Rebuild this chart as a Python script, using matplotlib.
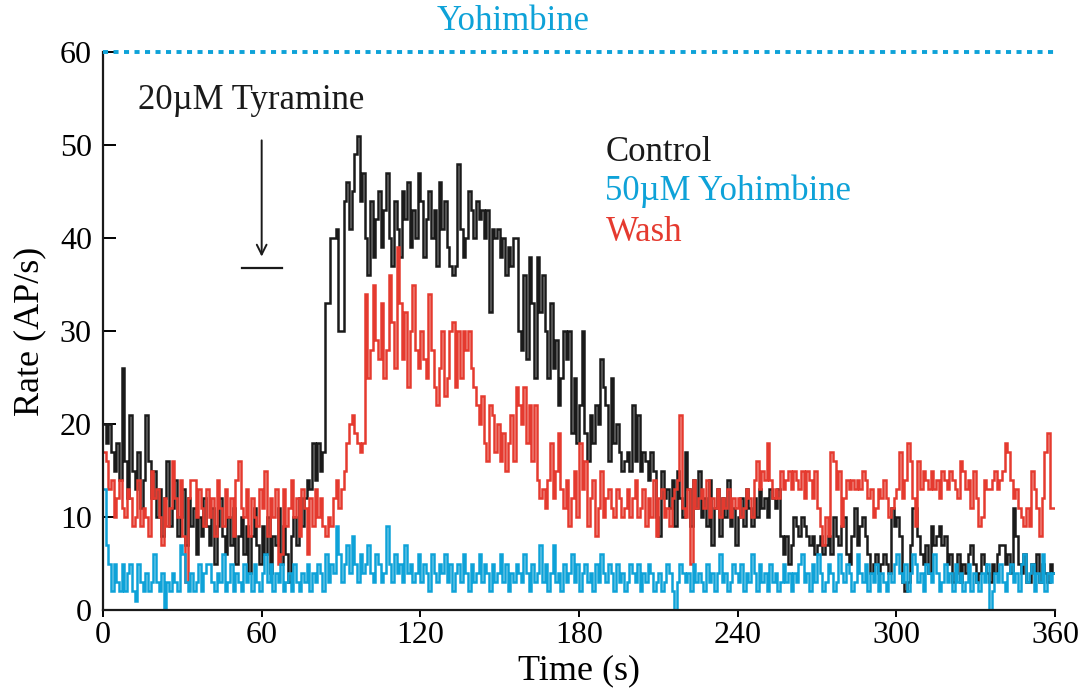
import numpy as np
import matplotlib
matplotlib.use("Agg")
import matplotlib.pyplot as plt

# ---- data (1-s bins, t = 0..359) ----
control = [
    20, 18, 20, 17, 15, 18, 14, 26, 16, 12, 21, 15, 13, 17, 11, 14, 21, 16, 12, 15,
    10, 13, 8, 12, 16, 9, 11, 14, 8, 10, 13, 7, 12, 9, 11, 6, 10, 8, 12, 9,
    7, 11, 5, 9, 12, 8, 6, 10, 7, 11, 5, 8, 10, 6, 9, 4, 8, 11, 7, 5,
    9, 6, 10, 4, 8, 7, 11, 5, 9, 6, 3, 8, 10, 7, 12, 9, 12, 14, 13, 18,
    14, 18, 15, 17, 33, 33, 40, 40, 41, 30, 30, 44, 46, 41, 45, 49, 51, 44, 47, 40,
    36, 44, 38, 42, 45, 39, 43, 47, 40, 37, 44, 41, 38, 45, 42, 46, 39, 43, 40, 47,
    44, 38, 42, 45, 40, 43, 37, 46, 41, 44, 39, 37, 36, 37, 48, 41, 38, 40, 45, 43,
    40, 44, 42, 43, 40, 43, 32, 41, 40, 41, 38, 40, 36, 39, 37, 40, 40, 30, 28, 36,
    27, 38, 33, 25, 38, 32, 36, 30, 25, 33, 26, 29, 22, 25, 30, 27, 30, 19, 25, 18,
    22, 30, 19, 16, 21, 18, 22, 20, 27, 24, 22, 16, 25, 18, 20, 17, 15, 16, 17, 15,
    22, 16, 21, 15, 17, 16, 14, 17, 15, 10, 8, 15, 12, 13, 11, 14, 9, 15, 12, 10,
    17, 13, 9, 14, 11, 15, 10, 12, 9, 14, 7, 11, 13, 8, 12, 10, 14, 9, 11, 7,
    10, 12, 9, 13, 11, 9, 12, 10, 13, 11, 12, 10, 13, 12, 11, 13, 8, 6, 8, 5,
    7, 10, 9, 8, 10, 9, 8, 7, 8, 6, 7, 8, 6, 7, 8, 6, 10, 8, 7, 9,
    10, 6, 5, 8, 11, 7, 9, 10, 8, 6, 4, 5, 6, 4, 5, 6, 5, 4, 11, 9,
    10, 8, 3, 2, 3, 7, 11, 11, 8, 6, 5, 7, 4, 9, 7, 8, 9, 7, 8, 5,
    6, 3, 4, 6, 3, 5, 4, 6, 7, 5, 3, 4, 6, 5, 4, 3, 5, 4, 6, 7,
    7, 5, 6, 4, 11, 8, 5, 4, 6, 3, 3, 5, 4, 6, 3, 5, 4, 3, 5, 4,
]

yohimbine = [
    13, 7, 5, 2, 5, 3, 2, 5, 2, 4, 5, 2, 1, 5, 3, 2, 4, 2, 3, 6,
    3, 2, 4, 0, 3, 2, 4, 3, 2, 7, 6, 3, 2, 4, 2, 3, 5, 2, 4, 5,
    5, 3, 2, 4, 3, 6, 2, 3, 5, 2, 4, 3, 2, 5, 3, 4, 2, 5, 3, 2,
    4, 6, 3, 5, 2, 4, 3, 5, 2, 3, 4, 2, 5, 3, 2, 4, 3, 5, 2, 4,
    3, 5, 4, 2, 6, 3, 5, 4, 9, 6, 3, 5, 7, 4, 8, 5, 3, 6, 4, 5,
    7, 4, 3, 6, 5, 3, 4, 9, 5, 3, 6, 4, 5, 3, 7, 4, 5, 3, 4, 6,
    3, 5, 4, 2, 6, 4, 3, 5, 4, 6, 3, 5, 2, 4, 5, 3, 6, 4, 2, 5,
    3, 4, 6, 3, 5, 4, 2, 5, 3, 4, 6, 3, 5, 2, 4, 3, 5, 4, 3, 6,
    4, 2, 5, 3, 4, 7, 3, 5, 2, 4, 7, 3, 4, 2, 5, 3, 4, 6, 3, 5,
    2, 4, 5, 3, 4, 2, 5, 3, 6, 4, 3, 5, 4, 2, 5, 3, 4, 2, 3, 5,
    4, 3, 5, 2, 4, 3, 5, 4, 2, 3, 4, 2, 3, 5, 4, 2, 0, 3, 5, 4,
    3, 4, 2, 5, 3, 4, 3, 2, 5, 3, 4, 2, 4, 6, 3, 4, 2, 3, 5, 4,
    3, 5, 2, 4, 3, 6, 4, 2, 5, 3, 4, 2, 5, 3, 4, 2, 3, 5, 3, 4,
    2, 4, 3, 5, 6, 3, 4, 2, 5, 3, 6, 4, 2, 3, 5, 4, 2, 3, 6, 4,
    3, 5, 4, 2, 3, 6, 4, 3, 5, 2, 4, 3, 5, 2, 4, 3, 2, 4, 3, 5,
    6, 4, 3, 5, 2, 4, 6, 5, 3, 4, 2, 5, 4, 3, 6, 4, 2, 3, 5, 3,
    4, 2, 5, 3, 4, 2, 3, 5, 2, 4, 3, 2, 4, 3, 5, 0, 2, 4, 3, 5,
    3, 2, 4, 5, 3, 4, 2, 5, 6, 3, 4, 5, 2, 4, 3, 6, 2, 4, 3, 4,
]

wash = [
    17, 16, 13, 14, 10, 12, 14, 11, 10, 13, 12, 9, 10, 14, 9, 11, 10, 8, 15, 12,
    13, 10, 7, 12, 9, 11, 16, 12, 10, 14, 8, 3, 12, 14, 14, 10, 13, 11, 9, 13,
    10, 12, 8, 14, 11, 9, 13, 10, 12, 8, 14, 16, 11, 10, 13, 8, 12, 10, 9, 13,
    11, 15, 8, 12, 10, 13, 5, 6, 13, 9, 11, 14, 10, 12, 8, 13, 11, 6, 12, 9,
    13, 10, 12, 9, 8, 10, 9, 12, 14, 11, 13, 15, 18, 20, 21, 19, 18, 17, 18, 34,
    25, 28, 35, 29, 27, 33, 25, 28, 36, 31, 26, 39, 33, 27, 32, 24, 30, 35, 28, 26,
    30, 27, 25, 34, 28, 24, 22, 26, 30, 23, 25, 30, 31, 24, 30, 25, 30, 28, 30, 26,
    24, 22, 20, 23, 18, 16, 22, 21, 17, 20, 16, 19, 15, 18, 21, 16, 24, 22, 20, 24,
    18, 22, 16, 22, 14, 12, 13, 11, 14, 18, 12, 15, 19, 13, 11, 14, 9, 12, 15, 10,
    18, 13, 16, 9, 12, 14, 8, 11, 15, 10, 12, 13, 11, 10, 13, 12, 10, 11, 13, 10,
    12, 14, 10, 11, 13, 9, 12, 10, 14, 8, 12, 13, 10, 11, 9, 12, 13, 14, 21, 11,
    10, 13, 5, 14, 11, 12, 13, 11, 14, 10, 12, 11, 13, 10, 12, 11, 13, 10, 12, 11,
    12, 10, 11, 13, 12, 10, 14, 16, 13, 15, 14, 18, 14, 12, 13, 12, 15, 13, 14, 15,
    13, 15, 14, 13, 15, 12, 15, 14, 12, 15, 11, 9, 7, 10, 8, 17, 16, 13, 15, 9,
    12, 14, 13, 14, 13, 14, 13, 15, 14, 12, 13, 10, 11, 13, 12, 14, 12, 10, 11, 12,
    13, 17, 12, 14, 18, 16, 12, 9, 16, 13, 15, 14, 13, 15, 13, 14, 12, 15, 14, 13,
    15, 14, 13, 12, 16, 15, 13, 14, 11, 15, 12, 9, 10, 14, 13, 13, 14, 15, 13, 14,
    15, 18, 17, 14, 12, 13, 11, 10, 9, 11, 9, 15, 13, 11, 8, 12, 17, 19, 11, 11,
]

x_ticks = [0, 60, 120, 180, 240, 300, 360]
y_ticks = [0, 10, 20, 30, 40, 50, 60]

BLACK = "#1a1a1a"
BLUE = "#0ea2d8"
RED = "#e53a2f"

plt.rcParams["font.family"] = ["Liberation Serif", "DejaVu Serif"]

fig = plt.figure(figsize=(10.84, 6.89), dpi=100)
ax = fig.add_axes([103 / 1084, 1 - 610 / 689, (1055 - 103) / 1084, (610 - 52) / 689])

t = np.arange(len(control) + 1)

def stepline(vals, color):
    v = list(vals) + [vals[-1]]
    ax.step(t, v, where="post", color=color, lw=1.8, solid_joinstyle="miter")

stepline(control, BLACK)
stepline(wash, RED)
stepline(yohimbine, BLUE)

# Yohimbine application bar
ax.plot([0, 360], [60, 60], color=BLUE, lw=2.8, linestyle=(0, (1.3, 1.4)),
        dash_capstyle="butt", clip_on=False, zorder=5)
ax.text(155, 63.3, "Yohimbine", color=BLUE, fontsize=25, ha="center", va="center",
        clip_on=False)

# Tyramine annotation
ax.text(13.2, 54.8, "20\u00b5M Tyramine", color=BLACK, fontsize=25, ha="left", va="center")
ax.annotate("", xy=(60, 38.0), xytext=(60, 50.5),
            arrowprops=dict(arrowstyle="->,head_length=0.7,head_width=0.35",
                            color=BLACK, lw=1.4, shrinkA=0, shrinkB=0))
ax.plot([52.6, 67.7], [36.8, 36.8], color=BLACK, lw=1.6)

# Legend text
ax.text(190, 49.2, "Control", color=BLACK, fontsize=25, ha="left", va="center")
ax.text(190, 45.0, "50\u00b5M Yohimbine", color=BLUE, fontsize=25, ha="left", va="center")
ax.text(190, 40.6, "Wash", color=RED, fontsize=25, ha="left", va="center")

ax.set_xlim(0, 360)
ax.set_ylim(0, 60)
ax.set_xticks(x_ticks)
ax.set_yticks(y_ticks)
ax.tick_params(axis="y", direction="in", length=9, width=1.4, labelsize=23, pad=8)
ax.tick_params(axis="x", direction="out", length=5, width=1.4, labelsize=23, pad=3)
for s in ["top", "right"]:
    ax.spines[s].set_visible(False)
for s in ["left", "bottom"]:
    ax.spines[s].set_linewidth(1.6)
    ax.spines[s].set_color(BLACK)

ax.set_xlabel("Time (s)", fontsize=26, labelpad=3)
ax.set_ylabel("Rate (AP/s)", fontsize=26, labelpad=10)

fig.savefig("out.png", dpi=100)
